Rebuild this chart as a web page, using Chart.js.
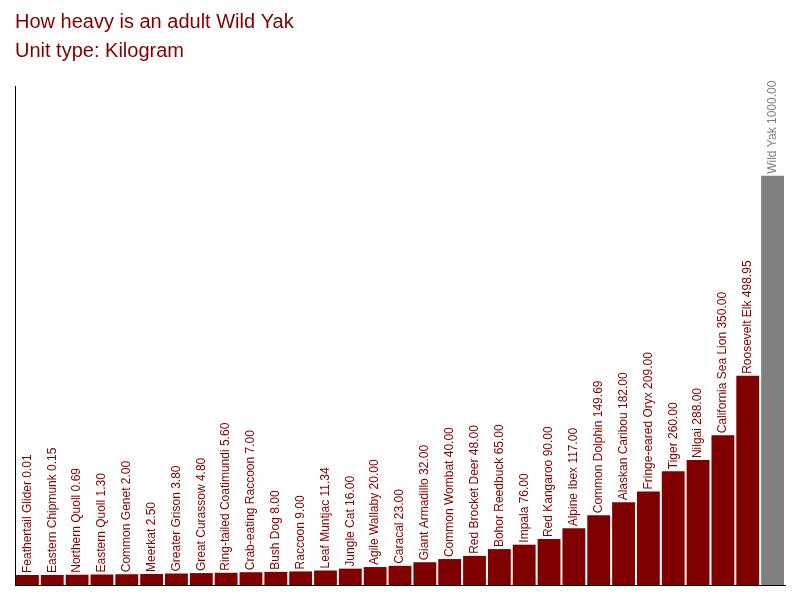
<!DOCTYPE html>
<html><head><meta charset="utf-8">
<script src="https://cdn.jsdelivr.net/npm/chart.js@4"></script>
<style>html,body{margin:0;padding:0;background:#fff}</style>
</head><body><canvas id="c" width="800" height="600" style="width:800px;height:600px"></canvas>
<script>
const animals = ["Feathertail Glider","Eastern Chipmunk","Northern Quoll","Eastern Quoll","Common Genet","Meerkat","Greater Grison","Great Curassow","Ring-tailed Coatimundi","Crab-eating Raccoon","Bush Dog","Raccoon","Leaf Muntjac","Jungle Cat","Agile Wallaby","Caracal","Giant Armadillo","Common Wombat","Red Brocket Deer","Bohor Reedbuck","Impala","Red Kangaroo","Alpine Ibex","Common Dolphin","Alaskan Caribou","Fringe-eared Oryx","Tiger","Nilgai","California Sea Lion","Roosevelt Elk","Wild Yak"];
const weights = [0.01,0.15,0.69,1.30,2.00,2.50,3.80,4.80,5.60,7.00,8.00,9.00,11.34,16.00,20.00,23.00,32.00,40.00,48.00,65.00,76.00,90.00,117.00,149.69,182.00,209.00,260.00,288.00,350.00,498.95,1000.00];
const titleLines = ["How heavy is an adult Wild Yak","Unit type: Kilogram"];
const base = -25;
const colors = animals.map((a,i)=> i===animals.length-1 ? "#808080" : "#800000");
const labelPlugin = {
  id:'lbl',
  afterDatasetsDraw(chart){
    const ctx = chart.ctx, meta = chart.getDatasetMeta(0);
    ctx.save();
    ctx.font = '12px "Liberation Sans", Arial, sans-serif';
    ctx.textBaseline = 'middle'; ctx.textAlign = 'left';
    meta.data.forEach((bar,i)=>{
      const txt = animals[i]+" "+weights[i].toFixed(2);
      ctx.save();
      ctx.translate(bar.x, Math.min(bar.y-2, 583));
      ctx.rotate(-Math.PI/2);
      ctx.fillStyle = i===animals.length-1 ? "#808080" : "#800000";
      ctx.fillText(txt,0,0);
      ctx.restore();
    });
    ctx.restore();
  }
};
new Chart(document.getElementById('c'),{
  type:'bar',
  data:{labels:animals,datasets:[{data:weights,backgroundColor:colors,base:base,barPercentage:0.92,categoryPercentage:1}]},
  options:{
    responsive:false,animation:false,devicePixelRatio:1,
    layout:{padding:{left:15,right:15,top:0,bottom:15}},
    plugins:{legend:{display:false},tooltip:{enabled:false},
      title:{display:true,text:titleLines,align:'start',color:'#800000',font:{size:20,family:'"Liberation Sans", Arial, sans-serif',weight:'normal',lineHeight:1.45},padding:{top:8,bottom:20}}},
    scales:{
      x:{ticks:{display:false},grid:{display:false,drawTicks:false},border:{display:true,color:'#000'}},
      y:{min:base,max:1225,ticks:{display:false},grid:{display:false,drawTicks:false},border:{display:true,color:'#000'}}
    }
  },
  plugins:[labelPlugin]
});
</script>
</body></html>
